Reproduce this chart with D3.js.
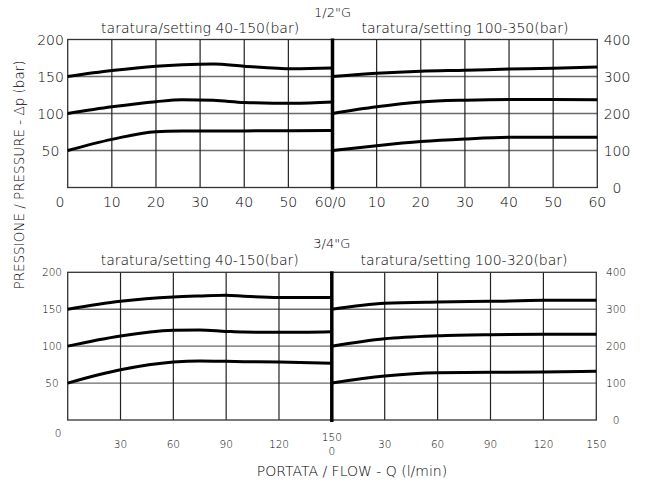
<!DOCTYPE html>
<html>
<head>
<meta charset="utf-8">
<script src="https://cdn.jsdelivr.net/npm/d3@7"></script>
<style>
  html, body { margin: 0; padding: 0; background: #fff; }
  svg text { font-family: "DejaVu Sans", sans-serif; font-weight: 200; fill: #000; }
</style>
</head>
<body>
<svg id="chart" width="645" height="483"></svg>
<script>
// ---------- DATA ----------
// 1/2"G panel, left (setting 40-150 bar), flow 0-60 l/min, pressure 0-200 bar
const topLeftQ   = [0, 10, 20, 26, 33, 40, 51, 60];
const topLeftHigh = [150, 158, 164, 166, 167, 164, 160.5, 161.5];
const topLeftMid  = [100, 109, 116, 118.5, 117.8, 115, 113.7, 115.5];
const topLeftLow  = [50, 65, 75.5, 76.2, 76.4, 76.5, 76.7, 77];
// 1/2"G panel, right (setting 100-350 bar), flow 0-60 l/min, pressure 0-400 bar
const topRightQ    = [0, 10, 20, 30, 40, 50, 60];
const topRightHigh = [300, 309, 314.5, 317, 320, 322.5, 326];
const topRightMid  = [200, 218, 231, 236, 238, 238, 237];
const topRightLow  = [100, 113, 124, 131, 135.5, 136, 136];
// 3/4"G panel, left (setting 40-150 bar), flow 0-150 l/min, pressure 0-200 bar
const botLeftQ    = [0, 30, 60, 75, 90, 100, 120, 150];
const botLeftHigh = [150, 160.7, 166.6, 168, 169, 167.6, 166, 166];
const botLeftMid  = [100, 113.8, 121.4, 122, 120, 119, 118.7, 119.6];
const botLeftLow  = [50, 68, 78.5, 80, 79.5, 79, 78.5, 77];
// 3/4"G panel, right (setting 100-320 bar), flow 0-150 l/min, pressure 0-400 bar
const botRightQ    = [0, 30, 60, 90, 120, 150];
const botRightHigh = [300, 316, 319.6, 321.4, 324, 324];
const botRightMid  = [200, 220, 228, 231, 232, 232];
const botRightLow  = [100, 119, 128, 129, 130, 132];

// tick labels
const topXTicks = [10, 20, 30, 40, 50];
const topLeftYTicks = [50, 100, 150, 200];
const rightYTicks = [0, 100, 200, 300, 400];
const botXTicks = [30, 60, 90, 120];
const botRightXTicks = [30, 60, 90, 120, 150];

const titleTop = '1/2"G';
const titleBot = '3/4"G';
const subTopL = 'taratura/setting 40-150(bar)';
const subTopR = 'taratura/setting 100-350(bar)';
const subBotL = 'taratura/setting 40-150(bar)';
const subBotR = 'taratura/setting 100-320(bar)';
const xTitle = 'PORTATA / FLOW - Q (l/min)';
const yTitle = 'PRESSIONE / PRESSURE - Δp (bar)';

// ---------- DRAW ----------
const svg = d3.select('#chart');
const gridColor = '#6a6a6a';

function panel(opt) {
  const g = svg.append('g');
  const xL = d3.scaleLinear().domain([0, opt.xmax]).range([opt.x0, opt.xm]);
  const xR = d3.scaleLinear().domain([0, opt.xmax]).range([opt.xm, opt.x1]);
  const yL = d3.scaleLinear().domain([0, 200]).range([opt.yb, opt.yt]);
  const yR = d3.scaleLinear().domain([0, 400]).range([opt.yb, opt.yt]);

  // horizontal grid
  g.selectAll('line.hg').data([50, 100, 150]).enter().append('line')
    .attr('x1', opt.x0).attr('x2', opt.x1)
    .attr('y1', d => yL(d)).attr('y2', d => yL(d))
    .attr('stroke', gridColor).attr('stroke-width', 1.3);
  // vertical grid
  g.selectAll('line.vgl').data(opt.gridTicks).enter().append('line')
    .attr('x1', d => xL(d)).attr('x2', d => xL(d))
    .attr('y1', opt.yt).attr('y2', opt.yb)
    .attr('stroke', '#222').attr('stroke-width', 1.2);
  g.selectAll('line.vgr').data(opt.gridTicks).enter().append('line')
    .attr('x1', d => xR(d)).attr('x2', d => xR(d))
    .attr('y1', opt.yt).attr('y2', opt.yb)
    .attr('stroke', '#222').attr('stroke-width', 1.2);
  // frame
  g.append('rect').attr('x', opt.x0).attr('y', opt.yt)
    .attr('width', opt.x1 - opt.x0).attr('height', opt.yb - opt.yt)
    .attr('fill', 'none').attr('stroke', '#333').attr('stroke-width', 1.3);

  // curves
  const lineL = d3.line().x((d, i) => xL(opt.qL[i])).y(d => yL(d)).curve(d3.curveMonotoneX);
  const lineR = d3.line().x((d, i) => xR(opt.qR[i])).y(d => yR(d)).curve(d3.curveMonotoneX);
  opt.seriesL.forEach(s => g.append('path').attr('d', lineL(s))
    .attr('fill', 'none').attr('stroke', '#000').attr('stroke-width', 3).attr('stroke-linejoin', 'round'));
  opt.seriesR.forEach(s => g.append('path').attr('d', lineR(s))
    .attr('fill', 'none').attr('stroke', '#000').attr('stroke-width', 3).attr('stroke-linejoin', 'round'));

  // divider
  g.append('line').attr('x1', opt.xm).attr('x2', opt.xm)
    .attr('y1', opt.yt - 1).attr('y2', opt.yb + 2)
    .attr('stroke', '#000').attr('stroke-width', 3.5);

  // left y labels
  g.selectAll('text.yl').data(topLeftYTicks).enter().append('text')
    .attr('x', opt.ylx).attr('y', d => yL(d)).attr('dy', '0.36em')
    .attr('text-anchor', 'middle').attr('font-size', opt.fs).text(d => d);
  // right y labels
  g.selectAll('text.yr').data(rightYTicks).enter().append('text')
    .attr('x', opt.yrx).attr('y', d => yR(d)).attr('dy', '0.36em')
    .attr('text-anchor', 'middle').attr('font-size', opt.fs).text(d => d);

  // x labels
  g.selectAll('text.xl').data(opt.xTicksL).enter().append('text')
    .attr('x', d => xL(d)).attr('y', opt.xly)
    .attr('text-anchor', 'middle').attr('font-size', opt.fs).text(d => d);
  g.selectAll('text.xr').data(opt.xTicksR).enter().append('text')
    .attr('x', d => xR(d)).attr('y', opt.xly)
    .attr('text-anchor', 'middle').attr('font-size', opt.fs).text(d => d);

  // titles
  g.append('text').attr('x', opt.xm).attr('y', opt.titleY).attr('text-anchor', 'middle')
    .attr('font-size', 13).text(opt.title);
  g.append('text').attr('x', (opt.x0 + opt.xm) / 2).attr('y', opt.subY).attr('text-anchor', 'middle')
    .attr('font-size', 14).text(opt.subL);
  g.append('text').attr('x', (opt.xm + opt.x1) / 2).attr('y', opt.subY).attr('text-anchor', 'middle')
    .attr('font-size', 14).text(opt.subR);
  return { xL, xR, yL, yR, g };
}

// Top panel: 1/2"G
const P1 = panel({
  x0: 67.7, xm: 332.5, x1: 597.3, yt: 39.5, yb: 187.5, xmax: 60,
  gridTicks: [10, 20, 30, 40, 50],
  qL: topLeftQ, qR: topRightQ,
  seriesL: [topLeftHigh, topLeftMid, topLeftLow],
  seriesR: [topRightHigh, topRightMid, topRightLow],
  ylx: 50.5, yrx: 617, fs: 14,
  xTicksL: topXTicks, xTicksR: topXTicks.concat([60]), xly: 207,
  title: titleTop, titleY: 17, subL: subTopL, subR: subTopR, subY: 33
});
P1.g.append('text').attr('x', 60).attr('y', 207).attr('text-anchor', 'middle').attr('font-size', 14).text(0);
P1.g.append('text').attr('x', P1.xR(0) - 2).attr('y', 207).attr('text-anchor', 'middle').attr('font-size', 14).text('60/0');

// Bottom panel: 3/4"G
const P2 = panel({
  x0: 67.7, xm: 331.8, x1: 596.3, yt: 272.3, yb: 420, xmax: 150,
  gridTicks: [30, 60, 90, 120],
  qL: botLeftQ, qR: botRightQ,
  seriesL: [botLeftHigh, botLeftMid, botLeftLow],
  seriesR: [botRightHigh, botRightMid, botRightLow],
  ylx: 52, yrx: 616, fs: 10.5,
  xTicksL: botXTicks, xTicksR: botRightXTicks, xly: 448,
  title: titleBot, titleY: 248, subL: subBotL, subR: subBotR, subY: 265
});
P2.g.append('text').attr('x', 58).attr('y', 437).attr('text-anchor', 'middle').attr('font-size', 10.5).text(0);
P2.g.append('text').attr('x', P2.xR(0)).attr('y', 441).attr('text-anchor', 'middle').attr('font-size', 10.5).text(150);
P2.g.append('text').attr('x', P2.xR(0)).attr('y', 455).attr('text-anchor', 'middle').attr('font-size', 10.5).text(0);

// axis titles
svg.append('text').attr('x', 352).attr('y', 476).attr('text-anchor', 'middle')
  .attr('font-size', 14).text(xTitle);
svg.append('text').attr('transform', 'translate(24,175) rotate(-90)').attr('text-anchor', 'middle')
  .attr('font-size', 13.5).text(yTitle);
</script>
</body>
</html>
